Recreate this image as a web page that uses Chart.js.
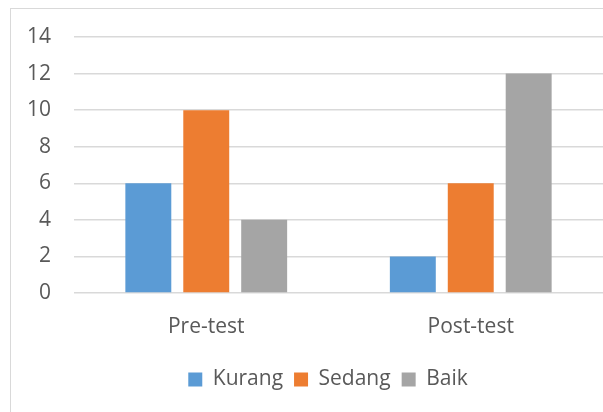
<!DOCTYPE html>
<html>
<head>
<meta charset="utf-8">
<script src="https://cdn.jsdelivr.net/npm/chart.js@4"></script>
<style>
  html, body { margin: 0; padding: 0; background: #fff; overflow: hidden; }
  #frame {
    position: absolute; left: 10px; top: 8px;
    width: 620px; height: 420px;
    border-left: 1px solid #d9d9d9; border-top: 1px solid #d9d9d9;
  }
  #wrap { position: absolute; left: 11px; top: 9px; width: 592px; height: 403px; }
</style>
</head>
<body>
<div id="frame"></div>
<div id="wrap"><canvas id="chart"></canvas></div>
<script>
// ===================== Data =====================
const categories = ['Pre-test', 'Post-test'];
const kurang = [6, 2];
const sedang = [10, 6];
const baik = [4, 12];
const yTicks = [0, 2, 4, 6, 8, 10, 12, 14];

// ===================== Chart =====================
(function () {
  const canvas = document.getElementById('chart');
  const textColor = '#595959';
  const font = { family: '"Open Sans", sans-serif', size: 21 };

  // nudge the legend sideways, the original is centred on a wider frame
  const legendShift = {
    id: 'legendShift',
    afterLayout: function (chart) {
      const lg = chart.legend;
      lg.left += 21;
      lg.right += 21;
    }
  };

  new Chart(canvas, {
    type: 'bar',
    data: {
      labels: categories,
      datasets: [
        { label: 'Kurang', data: kurang, backgroundColor: '#5b9bd5' },
        { label: 'Sedang', data: sedang, backgroundColor: '#ed7d31' },
        { label: 'Baik', data: baik, backgroundColor: '#a5a5a5' }
      ]
    },
    options: {
      responsive: true,
      maintainAspectRatio: false,
      animation: false,
      categoryPercentage: 0.657,
      barPercentage: 0.793,
      layout: { padding: { top: 28, right: 0, left: 0, bottom: 12 } },
      scales: {
        x: {
          grid: { display: false },
          border: { display: false },
          ticks: { color: textColor, font: font, padding: 13 },
          afterFit: function (scale) { scale.height = 65; }
        },
        y: {
          min: 0,
          max: yTicks[yTicks.length - 1],
          afterBuildTicks: function (scale) {
            scale.ticks = yTicks.map(function (v) { return { value: v }; });
          },
          grid: { color: '#d9d9d9', lineWidth: 1.5, drawTicks: false },
          border: { display: false },
          ticks: { color: textColor, font: font, padding: 23 },
          afterFit: function (scale) {
            scale.width = 63;
            // tick padding would otherwise push the plot top down
            scale.paddingTop = 12;
            scale.paddingBottom = 12;
          }
        }
      },
      plugins: {
        tooltip: { enabled: false },
        legend: {
          position: 'bottom',
          labels: {
            color: textColor,
            font: font,
            boxWidth: 14,
            boxHeight: 14,
            padding: 11
          }
        }
      }
    },
    plugins: [legendShift]
  });
})();
</script>
</body>
</html>
